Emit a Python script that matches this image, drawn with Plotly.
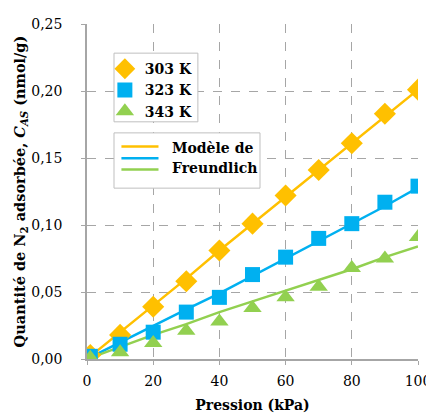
import plotly.graph_objects as go

pression = [1, 10, 20, 30, 40, 50, 60, 70, 80, 90, 100]
c_303 = [0.003, 0.018, 0.039, 0.058, 0.081, 0.101, 0.122, 0.141, 0.161, 0.183, 0.201]
c_323 = [0.002, 0.011, 0.020, 0.035, 0.046, 0.063, 0.076, 0.090, 0.101, 0.117, 0.129]
c_343 = [0.001, 0.005, 0.012, 0.021, 0.028, 0.038, 0.046, 0.054, 0.068, 0.075, 0.091]

p_model = [0, 10, 20, 30, 40, 50, 60, 70, 80, 90, 100]
m_303 = [0.000, 0.020, 0.040, 0.060, 0.081, 0.101, 0.121, 0.141, 0.161, 0.181, 0.201]
m_323 = [0.000, 0.0125, 0.0245, 0.037, 0.049, 0.062, 0.075, 0.088, 0.101, 0.114, 0.128]
m_343 = [0.000, 0.009, 0.018, 0.026, 0.035, 0.043, 0.051, 0.059, 0.067, 0.076, 0.084]

series_names = ["303 K", "323 K", "343 K"]
colors = ["#FFC000", "#00B0F0", "#92D050"]
symbols = ["diamond", "square", "triangle-up"]
marker_sizes = [17, 15, 16]
model_label = ["Modèle de", "Freundlich"]
x_ticks = [0, 20, 40, 60, 80, 100]
y_ticks = [0, 0.05, 0.10, 0.15, 0.20, 0.25]

SERIF = "DejaVu Serif"

fig = go.Figure()
for m, c in zip([m_303, m_323, m_343], colors):
    fig.add_trace(go.Scatter(x=p_model, y=m, mode="lines", line=dict(color=c, width=2.5),
                             showlegend=False, hoverinfo="skip"))
for y, name, c, s, sz in zip([c_303, c_323, c_343], series_names, colors, symbols, marker_sizes):
    fig.add_trace(go.Scatter(x=pression, y=y, mode="markers", name="<b>%s</b>" % name,
                             marker=dict(symbol=s, size=sz, color=c, line=dict(width=0))))

# boxes behind the two legends
shapes = [
    dict(type="rect", xref="paper", yref="paper", x0=0.0816, x1=0.335, y0=0.708, y1=0.913,
         line=dict(color="#BFBFBF", width=1), fillcolor="white", layer="above"),
    dict(type="rect", xref="paper", yref="paper", x0=0.0816, x1=0.5227, y0=0.510, y1=0.675,
         line=dict(color="#BFBFBF", width=1), fillcolor="white", layer="above"),
]
for yy, c in zip([0.634, 0.599, 0.566], colors):
    shapes.append(dict(type="line", xref="paper", yref="paper", x0=0.104, x1=0.216, y0=yy, y1=yy,
                       line=dict(color=c, width=2.5), layer="above"))
annotations = []
for yy, t in zip([0.631, 0.571], model_label):
    annotations.append(dict(xref="paper", yref="paper", x=0.251, y=yy, text="<b>%s</b>" % t,
                            showarrow=False, xanchor="left", yanchor="middle",
                            font=dict(family=SERIF, size=14, color="black")))

fig.update_layout(
    width=426, height=407,
    margin=dict(l=79, r=16, t=16, b=56),
    paper_bgcolor="white", plot_bgcolor="white",
    separators=", ",
    font=dict(family=SERIF, size=13, color="black"),
    shapes=shapes, annotations=annotations,
    legend=dict(x=0.054, y=0.913, xanchor="left", yanchor="top",
                bgcolor="rgba(0,0,0,0)", borderwidth=0,
                font=dict(family=SERIF, size=14, color="black"),
                itemwidth=30, tracegroupgap=0),
    xaxis=dict(range=[0, 100], tickvals=x_ticks, showgrid=True, automargin=False,
               gridcolor="#A6A6A6", griddash="dash", gridwidth=1,
               showline=True, linecolor="#A6A6A6", linewidth=1.5, mirror=False,
               ticks="outside", ticklen=4, tickcolor="#A6A6A6", ticklabelstandoff=4,
               zeroline=False, tickfont=dict(family=SERIF, size=14),
               title=dict(text="<b>Pression (kPa)</b>", font=dict(family=SERIF, size=14), standoff=13)),
    yaxis=dict(range=[0, 0.25], tickvals=y_ticks, tickformat=".2f", automargin=False,
               showgrid=True, gridcolor="#A6A6A6", griddash="dash", gridwidth=1,
               showline=True, linecolor="#A6A6A6", linewidth=1.5,
               ticks="outside", ticklen=4, tickcolor="#A6A6A6", ticklabelstandoff=16,
               zeroline=False, tickfont=dict(family=SERIF, size=14),
               title=dict(text="<b>Quantité de N<sub>2</sub> adsorbée, <i>C<sub>AS</sub></i> (nmol/g)</b>",
                          font=dict(family=SERIF, size=14.5), standoff=2)),
)
fig.write_html("out.html")
